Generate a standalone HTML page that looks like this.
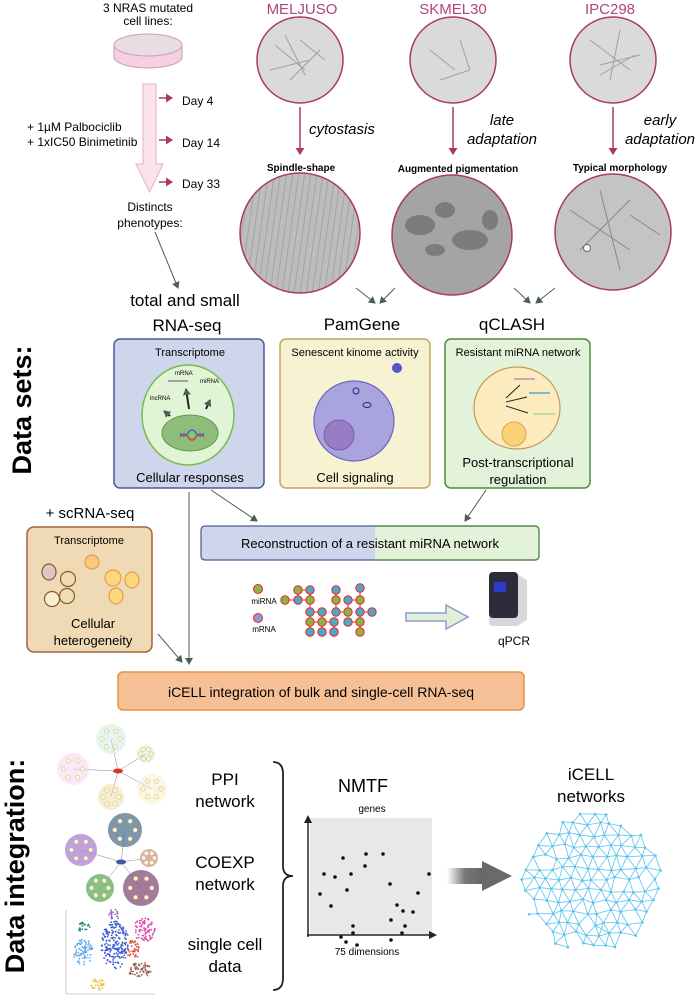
<!DOCTYPE html>
<html><head><meta charset="utf-8"><style>
html,body{margin:0;padding:0;background:#fff;}
svg{display:block;font-family:"Liberation Sans",Arial,sans-serif;}
</style></head><body>
<svg id="s" width="700" height="1000" viewBox="0 0 700 1000" xmlns="http://www.w3.org/2000/svg">
<defs>
<marker id="ag" markerWidth="8" markerHeight="8" refX="6" refY="4" orient="auto" markerUnits="userSpaceOnUse"><path d="M0,0 L7,4 L0,8 z" fill="#4d5e5a"/></marker>
<marker id="ap" markerWidth="9" markerHeight="9" refX="6" refY="4.5" orient="auto" markerUnits="userSpaceOnUse"><path d="M0,0 L7,4.5 L0,9 z" fill="#a8386e"/></marker>
<linearGradient id="gar" x1="0" x2="1"><stop offset="0" stop-color="#fff"/><stop offset="0.5" stop-color="#777"/><stop offset="1" stop-color="#666"/></linearGradient>
<pattern id="pm" width="6" height="40" patternUnits="userSpaceOnUse" patternTransform="rotate(8)"><rect width="6" height="40" fill="#bdbdbd"/><line x1="2" y1="0" x2="2" y2="40" stroke="#9e9e9e" stroke-width="0.8"/></pattern>
</defs>

<!-- top left -->
<text x="148" y="12" font-size="12" text-anchor="middle">3 NRAS mutated</text>
<text x="148" y="25" font-size="12" text-anchor="middle">cell lines:</text>
<ellipse cx="148" cy="57" rx="34" ry="11" fill="#f6cfe0" stroke="#c5a0b3"/>
<rect x="114" y="45" width="68" height="12" fill="#f6cfe0"/>
<line x1="114" y1="45" x2="114" y2="57" stroke="#c5a0b3"/><line x1="182" y1="45" x2="182" y2="57" stroke="#c5a0b3"/>
<ellipse cx="148" cy="45" rx="34" ry="11" fill="#e9dde3" stroke="#c5a0b3"/>
<path d="M143,84 h13 v80 h7 l-13.5,28 l-13.5,-28 h7 z" fill="#fbe3ee" stroke="#f2b4cf" stroke-width="1.2"/>
<g stroke="#a8386e" stroke-width="1.5" marker-end="url(#ap)"><line x1="159" y1="98" x2="172" y2="98"/><line x1="159" y1="140" x2="172" y2="140"/><line x1="159" y1="182" x2="172" y2="182"/></g>
<g font-size="12"><text x="182" y="105">Day 4</text><text x="182" y="147">Day 14</text><text x="182" y="188">Day 33</text>
<text x="27" y="131">+ 1µM Palbociclib</text><text x="27" y="146">+ 1xIC50 Binimetinib</text></g>
<text x="150" y="211" font-size="12" text-anchor="middle">Distincts</text>
<text x="150" y="227" font-size="12" text-anchor="middle">phenotypes:</text>
<line x1="155" y1="232" x2="178" y2="288" stroke="#4d5e5a" stroke-width="1" marker-end="url(#ag)"/>

<!-- cell lines -->
<g font-size="15" fill="#b0457a" text-anchor="middle"><text x="302" y="14">MELJUSO</text><text x="453" y="14">SKMEL30</text><text x="610" y="14">IPC298</text></g>
<g fill="#dadada" stroke="#a8386e" stroke-width="1.5"><circle cx="300" cy="60" r="43"/><circle cx="453" cy="60" r="43"/><circle cx="613" cy="60" r="43"/></g>
<g stroke="#a0a0a0" stroke-width="1" fill="none"><path d="M275,45 l30,25 M285,35 l20,40 M300,40 l25,20 M320,50 l-30,30 M270,70 l40,-10"/><path d="M430,50 l25,20 M460,40 l10,30 M440,80 l30,-10"/><path d="M590,40 l40,30 M600,75 l35,-20 M620,30 l-10,50 M640,55 l-40,10"/></g>
<g stroke="#a8386e" stroke-width="1.5" marker-end="url(#ap)"><line x1="300" y1="107" x2="300" y2="154"/><line x1="453" y1="107" x2="453" y2="154"/><line x1="613" y1="107" x2="613" y2="154"/></g>
<g font-size="15" font-style="italic"><text x="309" y="134">cytostasis</text><text x="502" y="125" text-anchor="middle">late</text><text x="502" y="144" text-anchor="middle">adaptation</text><text x="660" y="125" text-anchor="middle">early</text><text x="660" y="144" text-anchor="middle">adaptation</text></g>
<g font-size="10" font-weight="bold" text-anchor="middle"><text x="301" y="171">Spindle-shape</text><text x="458" y="172">Augmented pigmentation</text><text x="620" y="171">Typical morphology</text></g>
<circle cx="300" cy="233" r="60" fill="url(#pm)" stroke="#a8386e" stroke-width="1.5"/>
<circle cx="452" cy="235" r="60" fill="#a4a4a4" stroke="#a8386e" stroke-width="1.5"/>
<g fill="#555" opacity="0.5"><ellipse cx="420" cy="225" rx="15" ry="10"/><ellipse cx="470" cy="240" rx="18" ry="10"/><ellipse cx="445" cy="210" rx="10" ry="8"/><ellipse cx="490" cy="220" rx="8" ry="10"/><ellipse cx="435" cy="250" rx="10" ry="6"/></g>
<circle cx="613" cy="232" r="58" fill="#c4c4c4" stroke="#a8386e" stroke-width="1.5"/>
<g stroke="#888" fill="none"><path d="M570,210 l60,40 M580,250 l50,-50 M600,190 l20,80 M630,215 l30,20"/></g>
<circle cx="587" cy="248" r="3.5" fill="#fff" stroke="#666"/>
<g stroke="#4d5e5a" stroke-width="1" marker-end="url(#ag)"><line x1="356" y1="288" x2="375" y2="303"/><line x1="395" y1="288" x2="380" y2="303"/><line x1="514" y1="288" x2="530" y2="303"/><line x1="555" y1="288" x2="536" y2="303"/></g>

<!-- headings -->
<g font-size="17" text-anchor="middle"><text x="185" y="306">total and small</text><text x="187" y="331">RNA-seq</text><text x="362" y="330">PamGene</text><text x="512" y="330">qCLASH</text></g>
<text transform="translate(31,410) rotate(-90)" font-size="27" font-weight="bold" text-anchor="middle">Data sets:</text>

<!-- boxes -->
<rect x="114" y="339" width="150" height="149" rx="6" fill="#cfd5ea" stroke="#4a5a9a" stroke-width="1.5"/>
<rect x="280" y="339" width="150" height="149" rx="6" fill="#f7f3d2" stroke="#c3a55a" stroke-width="1.5"/>
<rect x="445" y="339" width="145" height="149" rx="6" fill="#e2f3da" stroke="#4f8a3c" stroke-width="1.5"/>
<g font-size="11" text-anchor="middle"><text x="190" y="356">Transcriptome</text><text x="355" y="356">Senescent kinome activity</text><text x="518" y="356">Resistant miRNA network</text></g>
<g font-size="13" text-anchor="middle"><text x="190" y="482">Cellular responses</text><text x="355" y="482">Cell signaling</text><text x="518" y="467">Post-transcriptional</text><text x="518" y="484">regulation</text></g>
<ellipse cx="188" cy="415" rx="46" ry="50" fill="#e2f4d6" stroke="#77bb55" stroke-width="1.5"/>
<ellipse cx="190" cy="433" rx="28" ry="18" fill="#8fbd7c" stroke="#5e9a4c"/>
<path d="M180,437 q4,-6 8,0 q4,6 8,0 q4,-6 8,0" stroke="#d33" fill="none" stroke-width="1.5"/><path d="M180,433 q4,6 8,0 q4,-6 8,0 q4,6 8,0" stroke="#27c" fill="none" stroke-width="1.5"/>
<g stroke="#222" stroke-width="2" marker-end="url(#ag)"><line x1="189" y1="409" x2="186" y2="389"/><line x1="206" y1="409" x2="210" y2="400"/><line x1="170" y1="416" x2="164" y2="411"/></g>
<g font-size="6"><text x="175" y="375">mRNA</text><text x="200" y="383">miRNA</text><text x="150" y="400">lncRNA</text></g>
<line x1="168" y1="381" x2="188" y2="381" stroke="#888" stroke-width="1.5"/>
<circle cx="354" cy="421" r="40" fill="#a9a4dd" stroke="#6a64c4" stroke-width="1.2"/>
<circle cx="339" cy="435" r="15" fill="#9a7cc4" stroke="#7a5aa8"/>
<circle cx="397" cy="368" r="5" fill="#5a52c8"/><ellipse cx="356" cy="391" rx="3" ry="3" fill="none" stroke="#2a2290"/><ellipse cx="367" cy="405" rx="4" ry="2.5" fill="none" stroke="#2a2290"/>
<ellipse cx="517" cy="408" rx="43" ry="41" fill="#fdebc0" stroke="#c49a5a" stroke-width="1.2"/>
<circle cx="514" cy="434" r="12" fill="#fcd278" stroke="#d9a548"/>
<g stroke="#222" stroke-width="1"><line x1="506" y1="398" x2="520" y2="385"/><line x1="506" y1="402" x2="527" y2="397"/><line x1="506" y1="406" x2="528" y2="413"/></g>
<g stroke-width="1.5"><line x1="514" y1="379" x2="535" y2="379" stroke="#c8a"/><line x1="529" y1="393" x2="550" y2="393" stroke="#5ac"/><line x1="533" y1="414" x2="555" y2="414" stroke="#ad8"/></g>

<!-- connectors -->
<line x1="189" y1="492" x2="189" y2="664" stroke="#4d5e5a" stroke-width="1" marker-end="url(#ag)"/>
<line x1="211" y1="490" x2="257" y2="521" stroke="#4d5e5a" stroke-width="1" marker-end="url(#ag)"/>
<line x1="486" y1="490" x2="465" y2="521" stroke="#4d5e5a" stroke-width="1" marker-end="url(#ag)"/>
<line x1="158" y1="634" x2="182" y2="662" stroke="#4d5e5a" stroke-width="1" marker-end="url(#ag)"/>

<!-- scRNA -->
<text x="90" y="518" font-size="15" text-anchor="middle">+ scRNA-seq</text>
<rect x="27" y="527" width="125" height="125" rx="7" fill="#f0d9b5" stroke="#a0643a" stroke-width="1.5"/>
<text x="89" y="544" font-size="11" text-anchor="middle">Transcriptome</text>
<g stroke="#8a5a30" stroke-width="1.2"><ellipse cx="49" cy="572" rx="7" ry="8" fill="#dcc6c8"/><circle cx="68" cy="579" r="7.5" fill="#f0d9b5"/><circle cx="52" cy="599" r="7.5" fill="#f8efcf"/><circle cx="67" cy="596" r="7.5" fill="#ece0b0"/></g>
<g stroke="#e0a050" stroke-width="1.2"><circle cx="92" cy="562" r="7" fill="#fbc77a"/><circle cx="113" cy="578" r="8" fill="#fcd67a"/><ellipse cx="132" cy="580" rx="7" ry="8" fill="#fcd67a"/><ellipse cx="116" cy="596" rx="7" ry="8" fill="#fcd67a"/></g>
<text x="93" y="628" font-size="13" text-anchor="middle">Cellular</text>
<text x="93" y="645" font-size="13" text-anchor="middle">heterogeneity</text>

<!-- recon -->
<rect x="201" y="526" width="174" height="34" fill="#cfd5ea"/>
<rect x="375" y="526" width="164" height="34" fill="#e2f3da"/>
<rect x="201" y="526" width="338" height="34" rx="4" fill="none" stroke="#4a5a9a" stroke-width="1.2"/>
<path d="M375,526 h160 a4,4 0 0 1 4,4 v26 a4,4 0 0 1 -4,4 h-160" fill="none" stroke="#4f8a3c" stroke-width="1.2"/>
<text x="370" y="548" font-size="13" text-anchor="middle">Reconstruction of a resistant miRNA network</text>
<circle cx="258" cy="589" r="4.5" fill="#8ab446" stroke="#e22" stroke-width="1"/>
<circle cx="258" cy="618" r="4.5" fill="#8c9ad8" stroke="#e22" stroke-width="1"/>
<text x="264" y="604" font-size="8" text-anchor="middle">miRNA</text><text x="264" y="632" font-size="8" text-anchor="middle">mRNA</text>
<g id="net" stroke="#e22" stroke-width="1"></g>
<path d="M406,613 h40 v-8 l22,12 l-22,12 v-8 h-40 z" fill="#dff0d6" stroke="#8c9ad8" stroke-width="1.5"/>
<path d="M491,574 h26 l10,6 v40 l-10,6 h-24 q-4,0 -4,-4 v-44 q0,-4 2,-4z" fill="#d8d8d8"/>
<rect x="489" y="572" width="29" height="46" rx="4" fill="#2c2c3a"/>
<rect x="494" y="582" width="12" height="10" fill="#2d3acb"/>
<text x="514" y="645" font-size="12" text-anchor="middle">qPCR</text>

<!-- iCELL -->
<rect x="118" y="672" width="406" height="38" rx="5" fill="#f6c097" stroke="#e8923f" stroke-width="1.5"/>
<text x="321" y="697" font-size="14" text-anchor="middle">iCELL integration of bulk and single-cell RNA-seq</text>

<!-- Data integration -->
<text transform="translate(24,866) rotate(-90)" font-size="27" font-weight="bold" text-anchor="middle">Data integration:</text>
<g id="ppi"></g>
<g font-size="17" text-anchor="middle"><text x="225" y="785">PPI</text><text x="225" y="807">network</text><text x="225" y="868">COEXP</text><text x="225" y="890">network</text><text x="225" y="950">single cell</text><text x="225" y="972">data</text></g>
<path d="M273,762 q10,0 10,12 v92 q0,10 10,10 q-10,0 -10,10 v92 q0,12 -10,12" fill="none" stroke="#222" stroke-width="1.8"/>
<text x="363" y="792" font-size="18" text-anchor="middle">NMTF</text>
<text x="372" y="812" font-size="10" text-anchor="middle">genes</text>
<rect x="310" y="818" width="122" height="116" fill="#e8e8e8"/>
<line x1="308" y1="937" x2="308" y2="821" stroke="#222" stroke-width="1.5"/><path d="M304,823 l4,-8 l4,8z" fill="#222"/>
<line x1="307" y1="935" x2="431" y2="935" stroke="#222" stroke-width="1.5"/><path d="M429,931 l8,4 l-8,4z" fill="#222"/>
<text x="367" y="955" font-size="10" text-anchor="middle">75 dimensions</text>
<g id="dots" fill="#111"></g>
<rect x="447" y="868" width="36" height="16" fill="url(#gar)"/>
<path d="M482,861 l30,15 l-30,15z" fill="#6a6a6a"/>
<text x="591" y="780" font-size="17" text-anchor="middle">iCELL</text>
<text x="591" y="802" font-size="17" text-anchor="middle">networks</text>
<g id="mesh" stroke="#5bc2ee" stroke-width="0.8" fill="#5bc2ee"></g>
</svg>
<script>
var NS="http://www.w3.org/2000/svg";
function el(p,t,a){var e=document.createElementNS(NS,t);for(var k in a)e.setAttribute(k,a[k]);p.appendChild(e);return e;}
var seed=7;function r(){seed=(seed*16807)%2147483647;return (seed-1)/2147483646;}
var net=document.getElementById('net');
var N=[[285,600,1],[298,590,1],[310,590,0],[298,600,0],[310,600,1],[310,612,0],[322,612,0],[310,622,1],[322,622,1],[334,622,0],[310,632,0],[322,632,0],[334,632,0],[336,590,0],[336,600,1],[336,612,0],[348,612,1],[348,600,0],[360,600,1],[360,588,0],[360,612,0],[372,612,0],[360,622,1],[348,622,0],[360,632,1]];
var E=[[0,3],[1,2],[1,3],[2,4],[3,4],[4,5],[5,6],[5,7],[6,8],[7,8],[8,9],[7,10],[8,11],[9,12],[13,14],[14,15],[15,16],[16,17],[17,18],[18,19],[18,20],[20,21],[20,22],[22,23],[22,24]];
E.forEach(function(e){el(net,'line',{x1:N[e[0]][0],y1:N[e[0]][1],x2:N[e[1]][0],y2:N[e[1]][1]});});
N.forEach(function(n){el(net,'circle',{cx:n[0],cy:n[1],r:4.2,fill:n[2]?'#8ab446':'#4aa8c8'});});
var d=document.getElementById('dots');
[[343,858],[366,854],[383,854],[324,874],[335,877],[351,874],[365,866],[429,874],[320,894],[347,890],[390,884],[418,893],[331,906],[397,905],[413,912],[403,911],[391,920],[405,926],[353,926],[341,937],[353,933],[346,942],[357,945],[402,933],[391,940]].forEach(function(p){el(d,'circle',{cx:p[0],cy:p[1],r:1.8});});
var g=document.getElementById('ppi');
function clusters(cx,cy,list,hub){list.forEach(function(c){el(g,'line',{x1:cx,y1:cy,x2:c[0],y2:c[1],stroke:'#888','stroke-width':0.5});});
list.forEach(function(c){el(g,'circle',{cx:c[0],cy:c[1],r:c[2],fill:c[3],opacity:c[4]||0.5});for(var i=0;i<6;i++){var a=i*1.05;el(g,'circle',{cx:c[0]+Math.cos(a)*c[2]*0.6,cy:c[1]+Math.sin(a)*c[2]*0.6,r:2.2,fill:'#fff8d0',stroke:'#b9a070','stroke-width':0.4});}});
el(g,'ellipse',{cx:cx,cy:cy,rx:5,ry:2.5,fill:hub});}
clusters(118,771,[[111,739,15,'#cde9e0'],[146,754,9,'#d7f0c8'],[73,769,16,'#f5d3ea'],[152,789,15,'#f5edc8'],[111,797,13,'#f0dca8']],'#d33');
clusters(121,862,[[125,830,17,'#5e7a95',0.8],[81,850,16,'#b08ad0',0.8],[149,858,9,'#c8a0a0',0.8],[100,888,14,'#6ab068',0.8],[141,888,18,'#8c5a80',0.8]],'#4456a8');
var cols=[['#1a8a7a',83,927,7,5],['#9a6ac8',114,915,6,6],['#dd44aa',144,930,11,12],['#5aa8ea',83,952,10,13],['#3a5ad0',115,945,14,24],['#e05040',133,950,7,10],['#9a6050',140,970,12,8],['#e8c030',98,984,7,6]];
cols.forEach(function(c){for(var i=0;i<c[3]*c[4]*0.6;i++){var a=r()*6.283,rr=Math.sqrt(r());el(g,'circle',{cx:c[1]+Math.cos(a)*rr*c[3],cy:c[2]+Math.sin(a)*rr*c[4],r:0.9,fill:c[0]});}});
el(g,'line',{x1:66,y1:910,x2:66,y2:994,stroke:'#999','stroke-width':0.5});el(g,'line',{x1:66,y1:994,x2:155,y2:994,stroke:'#999','stroke-width':0.5});
var m=document.getElementById('mesh');var P=[];var cx=591,cy=883,R=70;
for(var y=-R;y<=R;y+=11){for(var x=-R;x<=R;x+=12){var xx=x+((Math.round(y/11))%2?6:0)+(r()-0.5)*5,yy=y+(r()-0.5)*5;if(xx*xx+yy*yy<=R*R*1.02)P.push([cx+xx,cy+yy]);}}
for(var i=0;i<P.length;i++)for(var j=i+1;j<P.length;j++){var dx=P[i][0]-P[j][0],dy=P[i][1]-P[j][1];if(dx*dx+dy*dy<16*16)el(m,'line',{x1:P[i][0],y1:P[i][1],x2:P[j][0],y2:P[j][1]});}
P.forEach(function(p){el(m,'circle',{cx:p[0],cy:p[1],r:1.3,stroke:'none'});});
</script>
</body></html>
